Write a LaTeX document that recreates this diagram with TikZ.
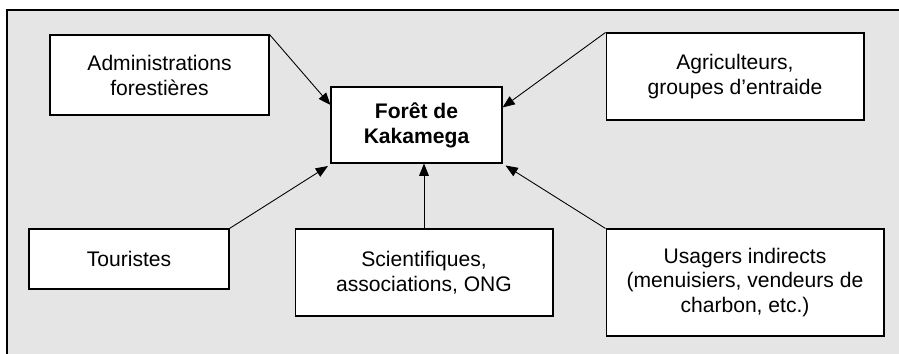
\documentclass[tikz,border=0pt]{standalone}
\usepackage{fontspec}
\setmainfont{Liberation Sans}
\usepackage{tikz}
\usetikzlibrary{arrows.meta, positioning}
\definecolor{fondgris}{RGB}{229,229,229}

\begin{document}
\begin{tikzpicture}[x=0.02cm, y=-0.02cm,
        acteur/.style={draw=black, line width=0.6pt, fill=white, align=center, inner sep=0pt,
            font=\fontsize{12}{14.2}\selectfont},
        fleche/.style={draw=black, line width=0.5pt, -{Triangle[length=7pt, width=5.5pt]}}]
        \useasboundingbox (0,0) rectangle (899,354);
        \fill [fondgris] (7,10) rectangle (899,354);
        \draw [line width=0.9pt] (899,10) -- (7,10) -- (7,354);
        % les acteurs
        \node [acteur, minimum width=3.42cm, minimum height=1.52cm] (foret) at (416.5,125) {\bfseries For\^et de\\\bfseries Kakamega};
        \node [acteur, minimum width=4.38cm, minimum height=1.6cm] (admin) at (159.5,75) {Administrations\\foresti\`eres};
        \node [acteur, minimum width=5.16cm, minimum height=1.74cm] (agri) at (735,76.5) {Agriculteurs,\\groupes d'entraide};
        \node [acteur, minimum width=4.0cm, minimum height=1.2cm] (tour) at (129,259) {Touristes};
        \node [acteur, minimum width=5.16cm, minimum height=1.74cm] (sci) at (424,272.5) {Scientifiques,\\associations, ONG};
        \node [acteur, minimum width=5.56cm, minimum height=2.14cm] (usag) at (745,282.5) {Usagers indirects\\(menuisiers, vendeurs de\\charbon, etc.)};
        % les fleches
        \draw [fleche] (admin.north east) -- ([yshift=0.4cm]foret.west);
        \draw [fleche] (agri.north west) -- ([yshift=0.35cm]foret.east);
        \draw [fleche] (tour.north east) -- ([shift={(-0.05cm,-0.05cm)}]foret.south west);
        \draw [fleche] (sci.north) -- (sci.north |- foret.south);
        \draw [fleche] (usag.north west) -- ([shift={(0.06cm,-0.04cm)}]foret.south east);
\end{tikzpicture}
\end{document}
